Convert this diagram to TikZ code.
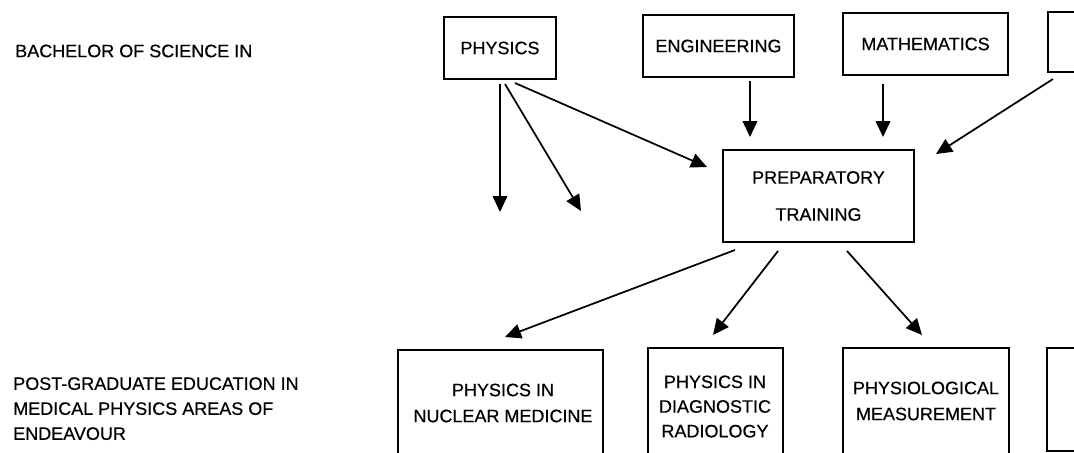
\documentclass[tikz,border=0pt]{standalone}
\usepackage{fontspec}
\setmainfont{Liberation Sans}
\newfontfamily\scanfont[FakeBold=0.5]{Liberation Sans}
\usetikzlibrary{arrows.meta,calc}
\begin{document}
\begin{tikzpicture}[x=0.75pt,y=-0.75pt,
  lab/.style={font=\scanfont\fontsize{13.5}{18.75}\selectfont, inner sep=0pt, align=left},
  box/.style={draw, line width=1.5pt, inner sep=0pt, align=center, font=\scanfont\fontsize{13.5}{19}\selectfont},
  txt/.style={inner sep=0pt, align=center, font=\scanfont\fontsize{13.5}{19.5}\selectfont},
  arr/.style={line width=1.3pt, -{Triangle[length=12pt,width=11pt]}}]
\useasboundingbox (0,0) rectangle (1074,453);
\clip (0,0) rectangle (1074,453);
% left labels
\node[lab, anchor=west] (bach) at (15,51) {BACHELOR OF SCIENCE IN};
\node[lab, anchor=north west] (post) at (13,377) {POST-GRADUATE EDUCATION IN\\MEDICAL PHYSICS AREAS OF\\ENDEAVOUR};
% top boxes
\node[box, minimum width=84pt, minimum height=46.5pt] (phys) at (500,48) {PHYSICS};
\node[box, minimum width=113.25pt, minimum height=46.5pt] (eng) at (718.5,46) {ENGINEERING};
\node[box, minimum width=123.75pt, minimum height=46.5pt] (math) at (925.5,44) {MATHEMATICS};
\node[box, minimum width=78pt, minimum height=45pt] (rtop) at (1100,42) {};
% preparatory training
\node[box, minimum width=143.25pt, minimum height=69pt, font=\scanfont\fontsize{13.5}{27.75}\selectfont] (prep) at (818.5,196) {PREPARATORY\\TRAINING};
% bottom boxes
\node[box, minimum width=153.75pt, minimum height=112.5pt] (nuc) at (500.5,425) {};
\node[txt] (nuct) at (503,403) {PHYSICS IN\\NUCLEAR MEDICINE};
\node[box, minimum width=101.25pt, minimum height=114pt] (diag) at (715.5,424) {};
\node[txt, font=\scanfont\fontsize{13.5}{18.5}\selectfont] (diagt) at (715,406.5) {PHYSICS IN\\DIAGNOSTIC\\RADIOLOGY};
\node[box, minimum width=124.5pt, minimum height=114pt] (physio) at (926,424) {};
\node[txt] (physiot) at (926,401) {PHYSIOLOGICAL\\MEASUREMENT};
\node[box, minimum width=77.25pt, minimum height=77.25pt] (rbot) at (1098.5,399.5) {};
% free ends
\coordinate (f1) at (500,212);
\coordinate (f2) at (581,211);
% arrows from physics
\draw[arr] ($(phys.south)+(0,4)$) -- (f1);
\draw[arr] ($(phys.south)+(5,4)$) -- (f2);
\draw[arr] ($(phys.south)+(15,3)$) -- ($(prep.west)+(-15,-29)$);
% arrows into preparatory training
\draw[arr] ($(eng.south)+(31.5,3)$) -- ($(prep.north)+(-68.5,-12)$);
\draw[arr] ($(math.south)+(-42.5,8)$) -- ($(prep.north)+(64.5,-12)$);
\draw[arr] ($(rtop.south)+(-47,6)$) -- ($(prep.north east)+(21,5)$);
% arrows out of preparatory training
\draw[arr] ($(prep.south)+(-83.5,7)$) -- ($(nuc.north)+(4.5,-12)$);
\draw[arr] ($(prep.south)+(-40.5,8)$) -- ($(diag.north)+(-2.5,-12)$);
\draw[arr] ($(prep.south)+(28.5,8)$) -- ($(physio.north)+(-4,-12)$);
\end{tikzpicture}
\end{document}
